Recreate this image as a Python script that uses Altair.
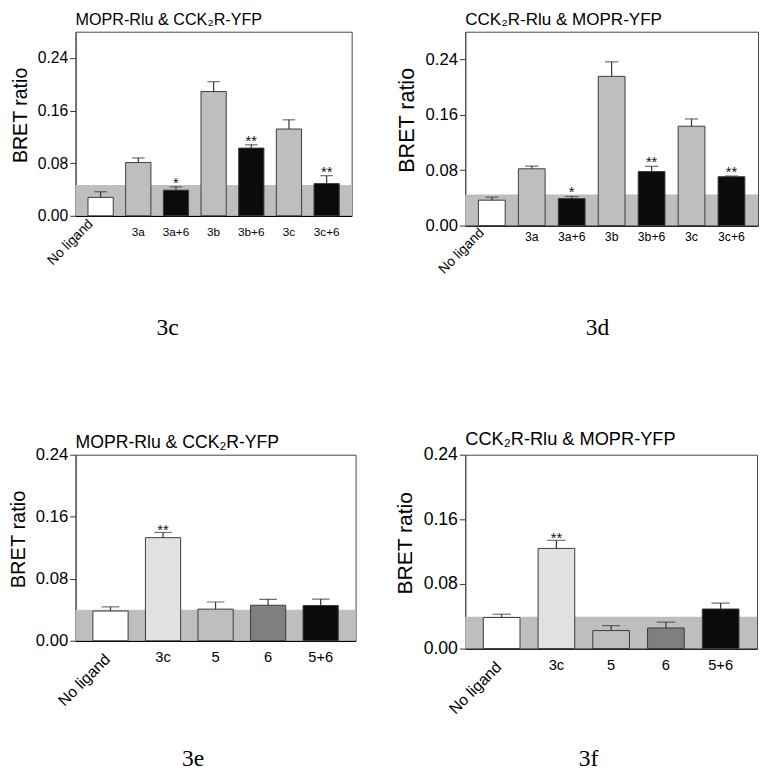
import altair as alt
import pandas as pd

# ---------------- data ----------------
cats_top = ["No ligand", "3a", "3a+6", "3b", "3b+6", "3c", "3c+6"]
cats_bottom = ["No ligand", "3c", "5", "6", "5+6"]

vals_3c = [0.028, 0.081, 0.039, 0.189, 0.103, 0.132, 0.049]
errs_3c = [0.0086, 0.007, 0.005, 0.015, 0.005, 0.014, 0.012]
stars_3c = ["", "", "*", "", "**", "", "**"]

vals_3d = [0.0367, 0.082, 0.039, 0.2155, 0.078, 0.1435, 0.0706]
errs_3d = [0.0043, 0.004, 0.003, 0.021, 0.0076, 0.0105, 0.001]
stars_3d = ["", "", "*", "", "**", "", "**"]

vals_3e = [0.0383, 0.133, 0.0408, 0.0458, 0.0455]
errs_3e = [0.0054, 0.0067, 0.0092, 0.0076, 0.0083]
stars_3e = ["", "**", "", "", ""]

vals_3f = [0.0385, 0.124, 0.0223, 0.0255, 0.049]
errs_3f = [0.004, 0.010, 0.0061, 0.0073, 0.0073]
stars_3f = ["", "**", "", "", ""]

baseline_3c = 0.047
baseline_3d = 0.045
baseline_3e = 0.040
baseline_3f = 0.0393

title_top_left = "MOPR-Rlu & CCK\u2082R-YFP"
title_top_right = "CCK\u2082R-Rlu & MOPR-YFP"
y_ticks = [0.0, 0.08, 0.16, 0.24]

# ---------------- styles ----------------
GREY = "#bebebe"
BLACK = "#0b0b0b"
fills_top = ["#ffffff", GREY, BLACK, GREY, BLACK, GREY, BLACK]
fills_bottom = ["#ffffff", "#e1e1e1", GREY, "#7f7f7f", BLACK]
FONT = "Liberation Sans"
SERIF = "Liberation Serif"
P_IN, P_OUT = 0.33, 0.33


def panel(cats, vals, errs, stars, fills, base, title, caption, st):
    w, h, ymax = st["w"], st["h"], st["ymax"]
    df = pd.DataFrame({"cat": cats, "val": vals, "err": errs, "star": stars, "fill": fills})
    df["top"] = df["val"] + df["err"]
    n = len(cats)
    bw = w / (n - P_IN + 2 * P_OUT) * (1 - P_IN)

    xscale = alt.Scale(domain=cats, paddingInner=P_IN, paddingOuter=P_OUT)
    xaxis = alt.Axis(labels=False, ticks=False, title=None, domainColor="black", domainWidth=1.5)
    yscale = alt.Scale(domain=[0, ymax], nice=False, zero=True)
    yaxis = alt.Axis(values=y_ticks, format=".2f", title="BRET ratio", grid=False,
                     titleFont=FONT, titleFontSize=st["ytitle"], titleFontWeight="normal",
                     titleColor="black", titlePadding=7, titleY=h / 2 - 9,
                     labelFont=FONT, labelFontSize=st["ylab"], labelColor="black",
                     labelPadding=2, tickSize=6, tickColor="#333", domainColor="#444")

    def X():
        return alt.X("cat:N", scale=xscale, axis=xaxis)

    def Y(f):
        return alt.Y(f, scale=yscale, axis=yaxis)

    base_df = pd.DataFrame({"b": [base]})
    band = alt.Chart(base_df).mark_rect(color=GREY).encode(
        x=alt.value(0), x2=alt.value(w), y=Y("b:Q"), y2=alt.datum(0)
    )
    bars = alt.Chart(df).mark_bar(stroke="#3a3a3a", strokeWidth=1).encode(
        x=X(), y=Y("val:Q"), fill=alt.Fill("fill:N", scale=None)
    )
    rules = alt.Chart(df).mark_rule(color="#333", strokeWidth=1.2).encode(
        x=X(), y=Y("val:Q"), y2="top:Q"
    )
    caps = alt.Chart(df).mark_tick(orient="horizontal", size=bw * 0.5, thickness=1.2, color="#333").encode(
        x=X(), y=Y("top:Q")
    )
    starm = alt.Chart(df).mark_text(font=FONT, fontSize=15, baseline="alphabetic", dy=st["stardy"], color="#111").encode(
        x=X(), y=Y("top:Q"), text="star:N"
    )
    xl = alt.Chart(df).transform_filter("datum.cat != 'No ligand'").mark_text(
        font=FONT, fontSize=st["xlab"], baseline="alphabetic", color="black"
    ).encode(x=X(), y=alt.value(h + st["xdy"]), text="cat:N")
    nl = alt.Chart(df).transform_filter("datum.cat == 'No ligand'").mark_text(
        font=FONT, fontSize=st["nl"], angle=315, align="right", baseline="middle", color="black",
        dx=-3, dy=st["nlrot"]
    ).encode(x=X(), y=alt.value(h + st["nldy"]), text="cat:N")
    cap = alt.Chart(pd.DataFrame({"c": [caption]})).mark_text(
        font=SERIF, fontSize=24, baseline="alphabetic", color="black"
    ).encode(x=alt.value(st["capx"]), y=alt.value(h + st["capdy"]), text="c:N")
    ttl = alt.Chart(pd.DataFrame({"t": [title]})).mark_text(
        font=FONT, fontSize=st["title"], baseline="alphabetic", align="left", color="black"
    ).encode(x=alt.value(0), y=alt.value(-st["titledy"]), text="t:N")

    return alt.layer(band, bars, rules, caps, starm, xl, nl, cap, ttl).properties(width=w, height=h)


stA = dict(w=282, h=188, ymax=0.28, ytitle=20, ylab=16, xlab=12, nl=14, xdy=21, nldy=12, nlrot=-11,
           title=16.5, titledy=7, stardy=1, capx=94, capdy=122)
stB = dict(w=299, h=198, ymax=0.28, ytitle=22, ylab=17, xlab=12.5, nl=14, xdy=16, nldy=11, nlrot=-11,
           title=17.4, titledy=7, stardy=1, capx=135, capdy=112)
stC = dict(w=286, h=190, ymax=0.24, ytitle=20.5, ylab=17, xlab=15, nl=16, xdy=22, nldy=15, nlrot=-1,
           title=18, titledy=7, stardy=3, capx=120, capdy=128)
stD = dict(w=298, h=198, ymax=0.24, ytitle=21.5, ylab=18, xlab=15, nl=16, xdy=22, nldy=15, nlrot=-1,
           title=18.6, titledy=10, stardy=3, capx=126, capdy=120)

pA = panel(cats_top, vals_3c, errs_3c, stars_3c, fills_top, baseline_3c, title_top_left, "3c", stA)
pB = panel(cats_top, vals_3d, errs_3d, stars_3d, fills_top, baseline_3d, title_top_right, "3d", stB)
pC = panel(cats_bottom, vals_3e, errs_3e, stars_3e, fills_bottom, baseline_3e, title_top_left, "3e", stC)
pD = panel(cats_bottom, vals_3f, errs_3f, stars_3f, fills_bottom, baseline_3f, title_top_right, "3f", stD)

chart = alt.concat(pA, pB, pC, pD, columns=2).properties(
    spacing={"row": 234, "column": 112},
    bounds="flush",
    align="each",
    padding={"left": 0, "top": -6, "right": 0, "bottom": 0},
).configure_view(stroke="#444", strokeWidth=1)

chart.save("out.html", embed_options={"renderer": "svg", "actions": False})
